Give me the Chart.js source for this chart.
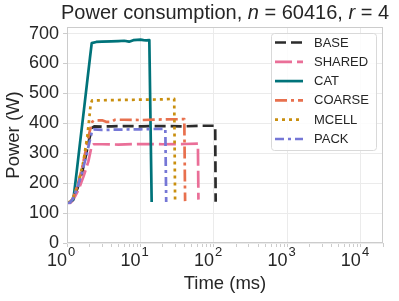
<!DOCTYPE html>
<html>
<head>
<meta charset="utf-8">
<script src="https://cdn.jsdelivr.net/npm/chart.js@4.4.1/dist/chart.umd.min.js"></script>
<style>
  html, body { margin: 0; padding: 0; background: #fff; }
  #wrap { position: relative; width: 399px; height: 301px; }
  #myChart { position: absolute; left: 0; top: 0; }
  #title { position: absolute; top: 0; left: 225px; transform: translateX(-50%); white-space: nowrap;
           font: 20px "Liberation Sans", Arial, sans-serif; line-height: 24px; color: #262626; }
</style>
</head>
<body>
<div id="wrap">
  <canvas id="myChart" width="399" height="301"></canvas>
  <div id="title">Power consumption, <i>n</i> = 60416, <i>r</i> = 4</div>
</div>
<script>
// values (time in ms, power in W)
var baseTime = [1.02, 1.1, 1.2, 1.4, 1.6, 1.8, 2.0, 2.2, 2.35, 3, 4, 6, 10, 20, 40, 70, 104, 105.5];
var basePower = [136, 135, 145, 185, 235, 290, 345, 385, 390, 389, 390, 391, 390, 391, 390, 392, 392, 138];

var sharedTime = [1.02, 1.1, 1.2, 1.43, 1.67, 1.95, 2.17, 2.3, 3, 5, 10, 20, 40, 60.5, 61.5];
var sharedPower = [135, 134, 142, 177, 221, 272, 325, 330, 330, 329, 331, 330, 331, 332, 145];

var catTime = [1.02, 1.1, 1.22, 1.35, 1.5, 1.7, 1.9, 2.05, 2.17, 2.5, 3, 4, 5, 6, 7, 8, 9, 10, 11, 12, 13.2, 14.2];
var catPower = [135, 137, 145, 235, 332, 445, 548, 617, 668, 672, 673, 674, 675, 676, 673, 678, 679, 680, 678, 677, 678, 137];

var coarseTime = [1.02, 1.1, 1.2, 1.4, 1.6, 1.8, 2.0, 2.2, 2.35, 3, 3.4, 4, 4.5, 6, 10, 20, 39.5, 40.5];
var coarsePower = [136, 137, 148, 195, 250, 310, 365, 405, 410, 410, 405, 405, 412, 412, 411, 413, 414, 140];

var mcellTime = [1.02, 1.1, 1.2, 1.43, 1.67, 1.89, 2.01, 2.1, 2.2, 3, 5, 10, 20, 28.8, 29.6];
var mcellPower = [135, 138, 150, 199, 272, 356, 417, 465, 477, 477, 478, 479, 480, 482, 137];

var packTime = [1.02, 1.1, 1.2, 1.35, 1.6, 1.87, 2.1, 2.2, 2.3, 3, 5, 10, 15, 21.8, 22.4];
var packPower = [134, 135, 148, 177, 235, 300, 355, 375, 380, 378, 379, 380, 381, 382, 137];

var yTicks = [0, 100, 200, 300, 400, 500, 600, 700];
var xMajor = [1, 10, 100, 1000, 10000];
var xExponents = ['0', '1', '2', '3', '4'];

function pts(t, p) {
  var out = [];
  for (var i = 0; i < t.length; i++) out.push({x: t[i], y: p[i]});
  return out;
}

Chart.defaults.font.family = '"Liberation Sans", Arial, sans-serif';
Chart.defaults.color = '#262626';

var series = [
  {label: 'BASE', data: pts(baseTime, basePower), color: '#2b2b2b', dash: [11, 5]},
  {label: 'SHARED', data: pts(sharedTime, sharedPower), color: '#ea6f98', dash: [17, 5]},
  {label: 'CAT', data: pts(catTime, catPower), color: '#00737a', dash: []},
  {label: 'COARSE', data: pts(coarseTime, coarsePower), color: '#e8704e', dash: [12, 4, 3, 4]},
  {label: 'MCELL', data: pts(mcellTime, mcellPower), color: '#c98f0f', dash: [3, 4]},
  {label: 'PACK', data: pts(packTime, packPower), color: '#7577d6', dash: [9, 4, 3, 4]}
];

var datasets = series.map(function (s, i) {
  return {
    label: s.label, data: s.data, borderColor: s.color, backgroundColor: s.color,
    borderDash: s.dash, borderWidth: 2.7, pointRadius: 0, tension: 0, fill: false,
    borderCapStyle: 'butt', borderJoinStyle: 'round', order: series.length - i
  };
});

// frame round the plot, legend box inside it, and the small exponents of the x labels
var boxLegend = {
  id: 'boxLegend',
  afterDraw: function (chart) {
    var ctx = chart.ctx, a = chart.chartArea;
    ctx.save();
    ctx.strokeStyle = '#cccccc';
    ctx.lineWidth = 1;
    ctx.strokeRect(a.left + 0.5, a.top + 0.5, a.right - a.left - 1, a.bottom - a.top - 1);

    var bx = a.right - 112, by = a.top + 6, bw = 105, bh = 117;
    ctx.fillStyle = 'rgba(255,255,255,0.85)';
    ctx.strokeStyle = '#d9d9d9';
    ctx.beginPath();
    ctx.roundRect(bx + 0.5, by + 0.5, bw, bh, 3);
    ctx.fill();
    ctx.stroke();

    ctx.font = '13px "Liberation Sans", Arial, sans-serif';
    ctx.textBaseline = 'middle';
    chart.data.datasets.forEach(function (ds, i) {
      var y = by + 9.5 + i * 19.3;
      ctx.setLineDash(ds.borderDash);
      ctx.lineCap = 'butt';
      ctx.strokeStyle = ds.borderColor;
      ctx.lineWidth = ds.borderWidth;
      ctx.beginPath();
      ctx.moveTo(bx + 4, y);
      ctx.lineTo(bx + 32, y);
      ctx.stroke();
      ctx.setLineDash([]);
      ctx.fillStyle = '#262626';
      ctx.fillText(ds.label, bx + 43, y + 0.5);
    });

    // exponents
    ctx.font = '13px "Liberation Sans", Arial, sans-serif';
    ctx.textAlign = 'left';
    ctx.textBaseline = 'alphabetic';
    ctx.fillStyle = '#262626';
    var xs = chart.scales.x;
    xMajor.forEach(function (m, i) {
      ctx.fillText(xExponents[i], xs.getPixelForValue(m) + 1, a.bottom + 13);
    });
    ctx.restore();
  }
};

var ctx = document.getElementById('myChart').getContext('2d');
var chart = new Chart(ctx, {
  type: 'line',
  data: {datasets: datasets},
  plugins: [boxLegend],
  options: {
    responsive: false,
    animation: false,
    layout: {padding: {top: 27, right: 16, bottom: 0, left: 0}},
    plugins: {legend: {display: false}, tooltip: {enabled: false}},
    scales: {
      x: {
        type: 'logarithmic', min: 1, max: 20000,
        afterFit: function (s) { s.height = 58; },
        afterBuildTicks: function (s) {
          var t = [];
          xMajor.forEach(function (m) {
            for (var k = 1; k < 10; k++) {
              if (m * k <= 20000) t.push({value: m * k});
            }
          });
          s.ticks = t;
        },
        border: {display: false},
        grid: {
          color: function (c) {
            return (c.tick && xMajor.indexOf(c.tick.value) >= 0) ? '#ebebeb' : 'rgba(0,0,0,0)';
          },
          tickColor: '#cccccc', tickLength: 4
        },
        ticks: {
          autoSkip: false, maxRotation: 0, minRotation: 0, padding: 3, align: 'end',
          font: {size: 18}, color: '#262626',
          callback: function (v) {
            return xMajor.indexOf(v) >= 0 ? '10' : '';
          }
        },
        title: {display: true, text: 'Time (ms)', font: {size: 18.5}, color: '#262626', padding: {top: 0, bottom: 6}}
      },
      y: {
        min: 0, max: 722,
        afterFit: function (s) { s.width = 67; },
        afterBuildTicks: function (s) {
          s.ticks = yTicks.map(function (v) { return {value: v}; });
        },
        border: {display: false},
        grid: {color: '#ebebeb', tickColor: '#cccccc', tickLength: 4},
        ticks: {font: {size: 18}, color: '#262626', padding: 4},
        title: {display: true, text: 'Power (W)', font: {size: 18.5}, color: '#262626', padding: {top: 3, bottom: 0}}
      }
    }
  }
});
</script>
</body>
</html>
